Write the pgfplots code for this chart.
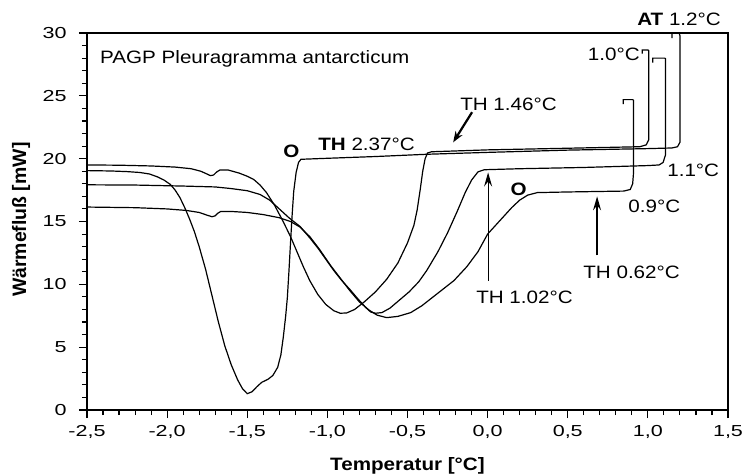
\documentclass[border=0pt]{standalone}
\usepackage{fontspec}
\setmainfont{Liberation Sans}[FakeStretch=1.15, BoldFont=Liberation Sans Bold, BoldFeatures={FakeStretch=1.15}]
\newfontfamily\tickfont{Liberation Sans}[FakeStretch=1.35]
\newfontfamily\xlabfont{Liberation Sans Bold}[FakeStretch=1.15]
\newfontfamily\ylabfont{Liberation Sans Bold}
\usepackage{pgfplots}
\pgfplotsset{compat=1.18}
\usetikzlibrary{arrows.meta}
\newcommand{\ann}{\fontsize{18}{20}\selectfont}
\begin{document}
\begin{tikzpicture}
\useasboundingbox (-87bp,-65bp) rectangle (658bp,410bp);
\begin{axis}[
  scale only axis, width=641bp, height=377bp, at={(0,0)}, anchor=south west,
  xmin=-2.5, xmax=1.5, ymin=0, ymax=30, clip=false,
  xtick={-2.5,-2,-1.5,-1,-0.5,0,0.5,1,1.5},
  ytick={0,5,10,15,20,25,30},
  minor x tick num=4, minor y tick num=4,
  tick pos=left, tick align=outside,
  major tick length=8bp, minor tick length=5bp,
  every tick/.append style={line width=1.1bp, black},
  axis line style={line width=1.3bp},
  /pgf/number format/assume math mode=true,
  xticklabel style={font=\tickfont\fontsize{16}{16}\selectfont, yshift=-4bp, /pgf/number format/.cd, fixed, fixed zerofill, precision=1, use comma},
  yticklabel style={font=\tickfont\fontsize{16}{16}\selectfont, xshift=-9bp},
  xlabel={\xlabfont\fontsize{18}{20}\selectfont Temperatur [°C]},
  ylabel={\ylabfont\fontsize{19.5}{21}\selectfont Wärmefluß [mW]},
  xlabel style={at={(axis description cs:0.5,0)}, anchor=base, yshift=-60bp},
  ylabel style={at={(axis description cs:0,0.505)}, anchor=center, yshift=66bp},
  cycle list={{black, line width=1.2bp}},
]
% Curve A (TH 2.37, AT 1.2)
\addplot[black, line width=1.2bp] coordinates {
(-2.50,19.05) (-2.35,19.02) (-2.25,18.97) (-2.17,18.9) (-2.11,18.78) (-2.06,18.55)
(-2.02,18.3) (-1.98,17.95) (-1.95,17.5) (-1.92,16.9) (-1.89,16.1) (-1.86,15.2)
(-1.83,14.2) (-1.80,13.0) (-1.76,11.2) (-1.72,9.1) (-1.68,7.0) (-1.64,5.1)
(-1.60,3.6) (-1.56,2.4) (-1.53,1.7) (-1.50,1.3) (-1.47,1.45) (-1.44,1.85)
(-1.41,2.2) (-1.37,2.45) (-1.34,2.75) (-1.31,3.4) (-1.29,4.4) (-1.275,5.8)
(-1.26,7.5) (-1.25,8.9) (-1.24,11.0) (-1.23,13.3) (-1.22,15.5) (-1.21,17.4)
(-1.195,18.9) (-1.18,19.7) (-1.165,19.95) (-1.0,20.03) (-0.7,20.17) (-0.38,20.35)
(0.0,20.5) (0.5,20.68) (1.0,20.8) (1.15,20.85) (1.185,20.95) (1.2,21.3)
(1.2,29.8) (1.195,30.0) (1.15,30.0) (1.15,29.6)
};
% Curve B (TH 1.46, AT 1.0)
\addplot[black, line width=1.2bp] coordinates {
(-2.50,19.5) (-2.3,19.48) (-2.1,19.42) (-1.95,19.33) (-1.85,19.2) (-1.79,19.0)
(-1.755,18.8) (-1.73,18.65) (-1.71,18.7) (-1.69,18.95) (-1.67,19.1) (-1.62,19.1)
(-1.55,18.85) (-1.50,18.6) (-1.46,18.35) (-1.42,17.9) (-1.38,17.3) (-1.33,16.3)
(-1.28,15.1) (-1.23,13.8) (-1.19,12.6) (-1.15,11.4) (-1.11,10.3) (-1.06,9.2)
(-1.01,8.4) (-0.96,7.9) (-0.92,7.7) (-0.88,7.72) (-0.83,8.0) (-0.77,8.6)
(-0.70,9.4) (-0.63,10.4) (-0.56,11.7) (-0.50,13.3) (-0.46,14.7) (-0.44,15.9)
(-0.42,17.6) (-0.405,19.0) (-0.39,20.0) (-0.375,20.45) (-0.35,20.55) (0.0,20.7)
(0.5,20.83) (0.95,20.95) (0.99,21.1) (1.005,21.5) (1.005,28.6) (1.0,28.65)
(0.965,28.65) (0.965,28.35)
};
% Curve C (TH 1.02, AT 1.1)
\addplot[black, line width=1.2bp] coordinates {
(-2.5,17.92) (-2.2,17.9) (-1.9,17.82) (-1.7,17.75) (-1.6,17.62) (-1.5,17.45)
(-1.42,17.15) (-1.36,16.7) (-1.30,16.0) (-1.24,15.3) (-1.17,14.6) (-1.11,13.7)
(-1.06,12.9) (-1.01,12.0) (-0.96,11.1) (-0.91,10.3) (-0.86,9.6) (-0.81,8.85)
(-0.76,8.15) (-0.73,7.8) (-0.70,7.7) (-0.66,7.75) (-0.61,8.1) (-0.55,8.75)
(-0.49,9.4) (-0.43,10.2) (-0.38,11.1) (-0.31,12.6) (-0.25,14.1) (-0.19,15.8)
(-0.14,17.3) (-0.10,18.3) (-0.06,18.95) (-0.02,19.12) (0.2,19.2) (0.6,19.3)
(1.0,19.45) (1.07,19.5) (1.095,19.7) (1.11,20.3) (1.11,27.95) (1.105,28.0)
(1.03,28.0) (1.03,27.65)
};
% Curve D (TH 0.62, AT 0.9)
\addplot[black, line width=1.2bp] coordinates {
(-2.5,16.15) (-2.2,16.1) (-2.0,16.0) (-1.88,15.88) (-1.8,15.72) (-1.75,15.5)
(-1.72,15.38) (-1.70,15.45) (-1.685,15.65) (-1.665,15.8) (-1.6,15.8) (-1.5,15.72)
(-1.4,15.55) (-1.3,15.3) (-1.23,15.0) (-1.17,14.55) (-1.11,13.8) (-1.05,12.8)
(-0.98,11.5) (-0.92,10.5) (-0.86,9.5) (-0.80,8.6) (-0.74,7.95) (-0.69,7.55)
(-0.63,7.35) (-0.56,7.45) (-0.48,7.75) (-0.41,8.3) (-0.34,9.0) (-0.27,9.7)
(-0.21,10.3) (-0.13,11.4) (-0.06,12.6) (0.0,14.0) (0.05,14.7) (0.10,15.4)
(0.15,16.1) (0.20,16.7) (0.25,17.1) (0.31,17.3) (0.5,17.35) (0.85,17.42)
(0.89,17.55) (0.905,18.0) (0.91,18.8) (0.91,24.65) (0.905,24.7) (0.846,24.7)
(0.846,24.35)
};
% annotations
\node[anchor=base west, inner sep=0, font=\ann] at (axis cs:-2.419,27.6) {PAGP Pleuragramma antarcticum};
\node[anchor=base, inner sep=0, font=\ann\bfseries] at (axis cs:-1.224,20.13) {O};
\node[anchor=base, inner sep=0, font=\ann\bfseries] at (axis cs:0.194,17.1) {O};
\node[anchor=base west, inner sep=0, font=\ann] at (axis cs:-1.058,20.68) {\textbf{TH} 2.37°C};
\node[anchor=base west, inner sep=0, font=\ann] at (axis cs:-0.172,23.87) {TH 1.46°C};
\node[anchor=base east, inner sep=0, font=\ann] at (axis cs:0.95,27.85) {1.0°C};
\node[anchor=base west, inner sep=0, font=\ann] at (axis cs:0.933,30.63) {\textbf{AT} 1.2°C};
\node[anchor=base west, inner sep=0, font=\ann] at (axis cs:1.12,18.55) {1.1°C};
\node[anchor=base west, inner sep=0, font=\ann] at (axis cs:0.877,15.75) {0.9°C};
\node[anchor=base west, inner sep=0, font=\ann] at (axis cs:-0.072,8.5) {TH 1.02°C};
\node[anchor=base west, inner sep=0, font=\ann] at (axis cs:0.596,10.5) {TH 0.62°C};
\draw[line width=2.2bp, -{Stealth[length=11bp,width=8bp]}] (axis cs:-0.097,23.7) -- (axis cs:-0.215,21.3);
\draw[line width=1.2bp, -{Stealth[length=14bp,width=8bp,inset=5bp]}] (axis cs:0.003,10.3) -- (axis cs:0.003,18.9);
\draw[line width=1.2bp, -{Stealth[length=14bp,width=8bp,inset=5bp]}] (axis cs:0.683,12.3) -- (axis cs:0.683,17.0);
\end{axis}
\end{tikzpicture}
\end{document}
